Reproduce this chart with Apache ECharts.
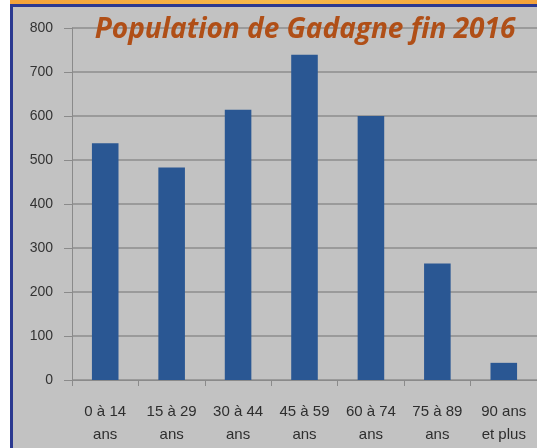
<!DOCTYPE html>
<html>
<head>
<meta charset="utf-8">
<script src="https://cdn.jsdelivr.net/npm/echarts@6/dist/echarts.min.js"></script>
<style>
html,body{margin:0;padding:0;background:#fff;}
#frame{position:absolute;left:10px;top:0;width:527px;height:448px;}
#strip{position:absolute;left:0;top:0;width:527px;height:4px;background:linear-gradient(90deg,#f3a23a,#f6b94c 50%,#f3a23a);}
#box{position:absolute;left:0;top:4px;width:527px;height:444px;box-sizing:border-box;border-top:3px solid #2b3990;border-left:3px solid #2b3990;background:#c2c2c2;}
#chart{position:absolute;left:0;top:0;width:537px;height:448px;}
</style>
</head>
<body>
<div id="frame"><div id="strip"></div><div id="box"></div></div>
<div id="chart"></div>
<script>
const categories = ["0 à 14\nans","15 à 29\nans","30 à 44\nans","45 à 59\nans","60 à 74\nans","75 à 89\nans","90 ans\net plus"];
const population = [538, 483, 614, 739, 600, 265, 39];
const yTicks = [0, 100, 200, 300, 400, 500, 600, 700, 800];
const titleText = "Population de Gadagne fin 2016";

const chart = echarts.init(document.getElementById('chart'), null, {renderer:'canvas'});
chart.setOption({
  backgroundColor: 'transparent',
  animation: false,
  title: {
    text: titleText,
    left: 300, top: 11, textAlign: 'center',
    textStyle: {fontFamily: 'Open Sans', fontWeight: 'bold', fontStyle: 'italic', fontSize: 28, color: '#b04f17'}
  },
  grid: {left: 72, right: -3, top: 28, bottom: 68, containLabel: false},
  xAxis: {
    type: 'category', data: categories,
    axisLine: {lineStyle: {color: '#8a8a8a', width: 1}},
    axisTick: {show: true, length: 6, lineStyle: {color: '#8a8a8a'}},
    axisLabel: {color: '#2e2e2e', fontFamily: 'Liberation Sans', fontSize: 15, lineHeight: 23, margin: 20, interval: 0}
  },
  yAxis: {
    type: 'value', min: yTicks[0], max: yTicks[yTicks.length-1], interval: 100,
    axisLine: {show: true, lineStyle: {color: '#8a8a8a'}},
    axisTick: {show: true, length: 8, lineStyle: {color: '#8a8a8a'}},
    splitLine: {lineStyle: {color: '#8c8c8c', width: 1.5}},
    axisLabel: {color: '#333', fontFamily: 'Liberation Sans', fontSize: 14, margin: 19}
  },
  series: [{
    type: 'bar', data: population, barWidth: '40%',
    itemStyle: {color: '#2a5793'}
  }]
});
</script>
</body>
</html>
